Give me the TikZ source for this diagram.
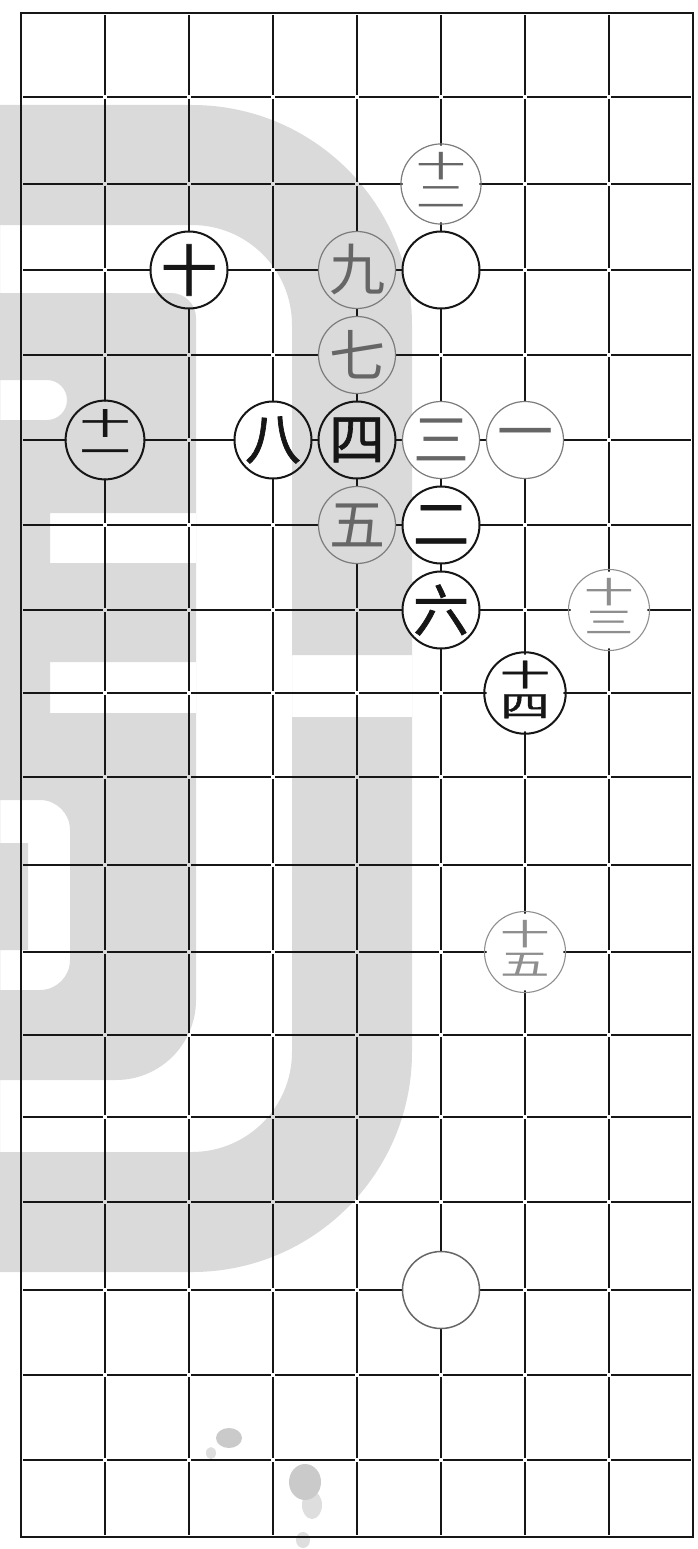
\documentclass[tikz,border=0pt]{standalone}
\usepackage{fontspec}
\usepackage{graphicx}
\newfontfamily\cjk{Noto Sans CJK SC}
\newfontfamily\cjkb{Noto Sans CJK SC}[FakeBold=1.2]
\definecolor{wm}{HTML}{DADADA}
\definecolor{ink}{HTML}{161616}
\definecolor{pale}{HTML}{7C7C7C}
\definecolor{paletext}{HTML}{666666}
\definecolor{faint}{HTML}{8E8E8E}
\definecolor{stain}{HTML}{CACACA}
\definecolor{stainlight}{HTML}{DEDEDE}
\newcommand{\gx}[1]{21+84*#1}
\newcommand{\gr}[1]{\ifcase#1 13\or 97\or 184\or 270\or 355\or 440\or 525\or 610\or 693\or 777\or 865\or 952\or 1035\or 1117\or 1202\or 1290\or 1375\or 1460\or 1537\fi}
\newcommand{\stk}[2]{\scalebox{1.65}[1]{\fontsize{30}{28}\selectfont\begin{tabular}{@{}c@{}}#1\\#2\end{tabular}}}
\newcommand{\wmark}{%
  \fill[wm,even odd rule]
    (0,105) -- (192,105) arc[start angle=-90,end angle=0,radius=220]
    -- (412,1052) arc[start angle=0,end angle=90,radius=220] -- (0,1272) -- cycle
    (0,225) -- (192,225) arc[start angle=-90,end angle=0,radius=100]
    -- (292,1052) arc[start angle=0,end angle=90,radius=100] -- (0,1152) -- cycle
    (292,655) rectangle (412,717);
  \fill[wm,even odd rule]
    (0,293) -- (171,293) arc[start angle=-90,end angle=0,radius=25]
    -- (196,1000) arc[start angle=0,end angle=90,radius=80] -- (0,1080) -- cycle
    (0,380) -- (47,380) arc[start angle=-90,end angle=90,radius=20] -- (0,420) -- cycle
    (50,513) rectangle (196,563)
    (50,662) rectangle (196,713)
    (0,800) -- (40,800) arc[start angle=-90,end angle=0,radius=30]
    -- (70,960) arc[start angle=0,end angle=90,radius=30] -- (0,990) -- cycle
    (0,843) rectangle (28,950);
}
\tikzset{
  gridline/.style={line width=1.7pt, draw=ink},
  border/.style={line width=2.3pt, draw=ink},
  stone/.style={circle, minimum size=77pt, inner sep=0pt},
  bstone/.style={stone, draw=ink, line width=2pt, text=ink, font=\cjkb\fontsize{56}{56}\selectfont},
  wstone/.style={stone, draw=pale, line width=1.2pt, text=paletext, font=\cjk\fontsize{56}{56}\selectfont},
  fstone/.style={stone, draw=faint, line width=1.1pt, text=faint, font=\cjk\fontsize{56}{56}\selectfont},
  estone/.style={stone, draw=ink, line width=2pt},
  gstone/.style={stone, draw=black!60, line width=1.5pt},
}
\begin{document}
\begin{tikzpicture}[x=1pt,y=-1pt]
\useasboundingbox (0,0) rectangle (697,1549);
\fill[white] (0,0) rectangle (697,1549);
% watermark
\wmark
% stains
\fill[stainlight] (211,1453) ellipse[x radius=5,y radius=6];
\fill[stain] (229,1438) ellipse[x radius=13,y radius=10];
\fill[stainlight] (312,1505) ellipse[x radius=10,y radius=14];
\fill[stain] (305,1482) ellipse[x radius=16,y radius=18];
\fill[stainlight] (303,1540) ellipse[x radius=7,y radius=8];
% grid: inner horizontal lines
\foreach \j in {1,...,17} {
  \foreach \i in {0,...,7} {
    \draw[gridline] ({\gx{\i}+2},{\gr{\j}}) -- ({\gx{\i}+82},{\gr{\j}});
  }
}
% grid: inner vertical lines
\foreach \i in {1,...,7} {
  \foreach \j [evaluate=\j as \k using int(\j+1)] in {0,...,17} {
    \draw[gridline] ({\gx{\i}},{\gr{\j}+2}) -- ({\gx{\i}},{\gr{\k}-2});
  }
}
% border
\draw[border] (21,13) -- (693,13) -- (693,1537) -- (21,1537) -- cycle;
% stone positions
\coordinate (p1) at ({\gx{6}},{\gr{5}});
\coordinate (p2) at ({\gx{5}},{\gr{6}});
\coordinate (p3) at ({\gx{5}},{\gr{5}});
\coordinate (p4) at ({\gx{4}},{\gr{5}});
\coordinate (p5) at ({\gx{4}},{\gr{6}});
\coordinate (p6) at ({\gx{5}},{\gr{7}});
\coordinate (p7) at ({\gx{4}},{\gr{4}});
\coordinate (p8) at ({\gx{3}},{\gr{5}});
\coordinate (p9) at ({\gx{4}},{\gr{3}});
\coordinate (p10) at ({\gx{2}},{\gr{3}});
\coordinate (p11) at ({\gx{1}},{\gr{5}});
\coordinate (p12) at ({\gx{5}},{\gr{2}});
\coordinate (p13) at ({\gx{7}},{\gr{7}});
\coordinate (p14) at ({\gx{6}},{\gr{8}});
\coordinate (p15) at ({\gx{6}},{\gr{11}});
\coordinate (pa) at ({\gx{5}},{\gr{3}});
\coordinate (pb) at ({\gx{5}},{\gr{15}});
% stone backgrounds
\fill[white] (p1) circle[radius=38.5] (p2) circle[radius=38.5] (p3) circle[radius=38.5]
  (p4) circle[radius=38.5] (p5) circle[radius=38.5] (p6) circle[radius=38.5]
  (p7) circle[radius=38.5] (p8) circle[radius=38.5] (p9) circle[radius=38.5]
  (p10) circle[radius=38.5] (p11) circle[radius=38.5] (p12) circle[radius=38.5]
  (p13) circle[radius=38.5] (p14) circle[radius=38.5] (p15) circle[radius=38.5]
  (pa) circle[radius=38.5] (pb) circle[radius=38.5];
\begin{scope}
  \clip (p4) circle[radius=38.5] (p5) circle[radius=38.5] (p7) circle[radius=38.5]
    (p8) circle[radius=38.5] (p9) circle[radius=38.5] (p10) circle[radius=38.5]
    (p11) circle[radius=38.5];
  \wmark
\end{scope}
% stones
\node[wstone] (s1) at (p1) {一};
\node[bstone] (s2) at (p2) {二};
\node[wstone] (s3) at (p3) {三};
\node[bstone] (s4) at (p4) {四};
\node[wstone] (s5) at (p5) {五};
\node[bstone] (s6) at (p6) {六};
\node[wstone] (s7) at (p7) {七};
\node[bstone] (s8) at (p8) {八};
\node[wstone] (s9) at (p9) {九};
\node[bstone] (s10) at (p10) {十};
\node[bstone] (s11) at (p11) {\stk{十}{一}};
\node[wstone] (s12) at (p12) {\stk{十}{二}};
\node[fstone] (s13) at (p13) {\stk{十}{三}};
\node[bstone] (s14) at (p14) {\stk{十}{四}};
\node[fstone] (s15) at (p15) {\stk{十}{五}};
\node[estone] (sa) at (pa) {};
\node[gstone] (sb) at (pb) {};
\end{tikzpicture}
\end{document}
